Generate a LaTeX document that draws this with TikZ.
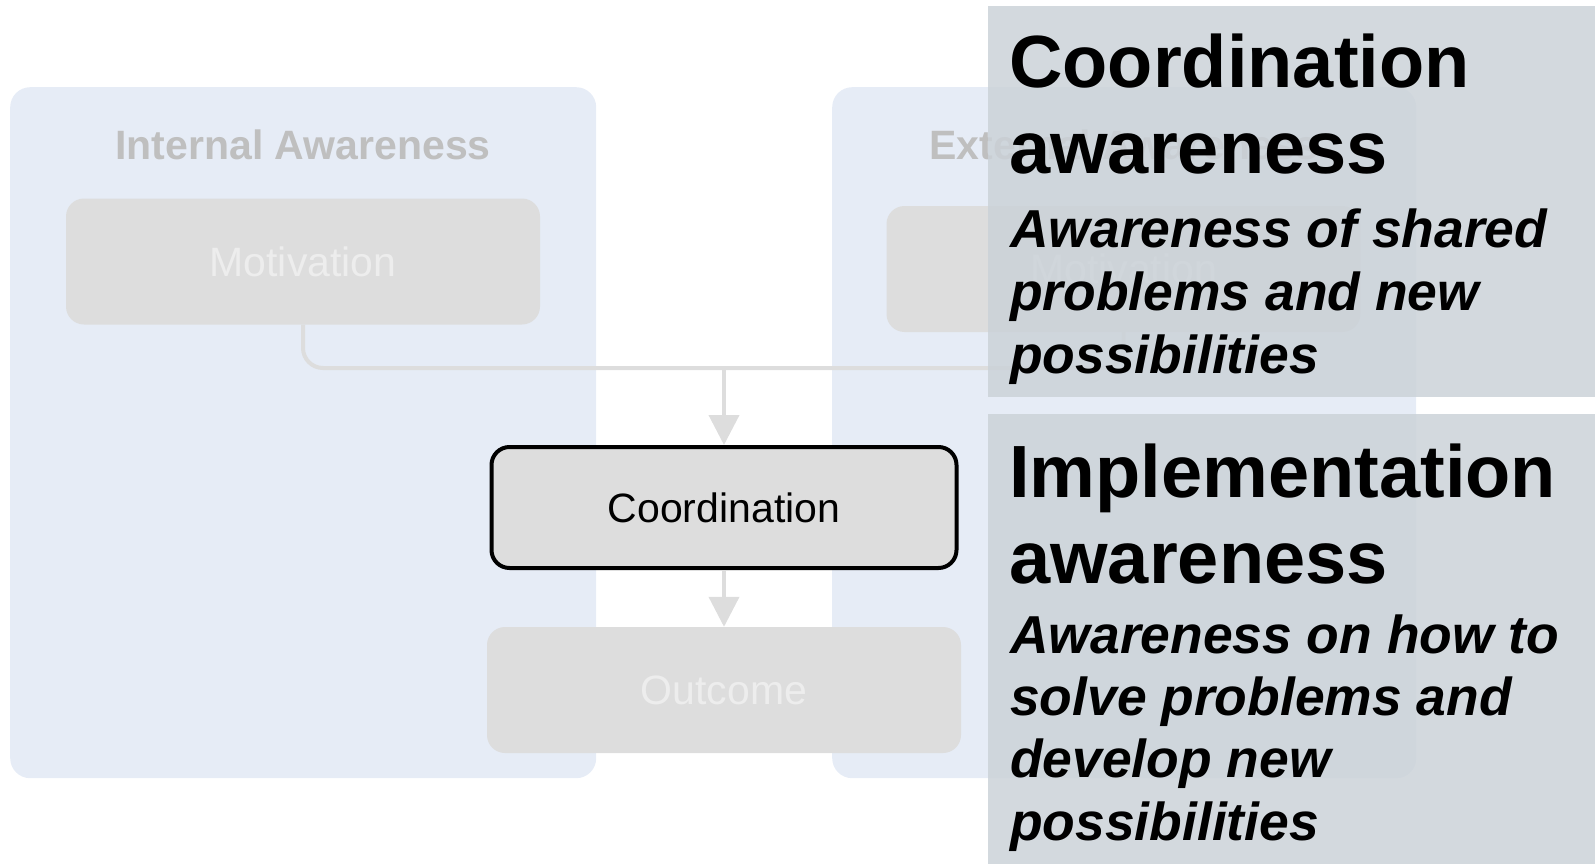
\documentclass[tikz,border=0pt]{standalone}
\usepackage{fontspec}
\setmainfont{Liberation Sans}
\usetikzlibrary{positioning}
\usetikzlibrary{arrows.meta}

\definecolor{panelblue}{RGB}{230,236,246}
\definecolor{stagegray}{RGB}{221,221,221}
\definecolor{fadetext}{RGB}{237,237,237}
\definecolor{headgray}{RGB}{191,191,191}
\definecolor{notefill}{RGB}{203,210,216}

\tikzset{x=1pt, y=-1pt, % pixel units, y grows downwards
panel/.style={ % Light blue background panels
fill=panelblue, rounded corners=20pt, anchor=north west, inner sep=0pt},
paneltitle/.style={text=headgray, anchor=base, inner sep=0pt,
font=\fontsize{41}{49}\selectfont\bfseries},
stage/.style={ % Grey process boxes
fill=stagegray, rounded corners=18pt, minimum width=474pt, minimum height=126pt,
text=fadetext, font=\fontsize{41}{49}\selectfont},
current/.style={stage, draw=black, line width=4pt,
minimum width=465pt, minimum height=121pt, text=black},
wire/.style={draw=stagegray, line width=4pt, rounded corners=20pt},
flow/.style={wire, -{Triangle[length=30pt, width=30pt]}},
note/.style={ % Semi transparent call-out boxes
fill=notefill, fill opacity=0.84, anchor=north west, inner sep=0pt},
notehead/.style={anchor=base west, inner sep=0pt,
font=\fontsize{74}{86}\selectfont\bfseries},
notetext/.style={anchor=base west, inner sep=0pt,
font=\fontsize{53.4}{63}\selectfont\bfseries\itshape}}

\begin{document}
\begin{tikzpicture}
\useasboundingbox (0,0) rectangle (1595,864);

% panels
\node[panel, minimum width=586pt, minimum height=691pt] (intpanel) at (10,87) {};
\node[panel, minimum width=584pt, minimum height=691pt] (extpanel) at (832,87) {};
\node[paneltitle] (inttitle) at (303,160) {Internal Awareness};
\node[paneltitle] (exttitle) at (1124,160) {External Awareness};

% stages
\node[stage] (motl) at (303,261.5) {Motivation};
\node[stage] (motr) at (1123.5,269) {Motivation};
\node[current] (coord) at (724,507.5) {Coordination};
\node[stage] (outcome) at (724,690) {Outcome};

\coordinate (join) at (coord.north |- 0,368);
\draw[wire] (motl.south) |- (join) -| (motr.south);
\draw[flow] (join) -- (coord.north);
\draw[flow] (coord.south) -- (outcome.north);

% call-outs
\node[note, minimum width=607pt, minimum height=391pt] (cnote) at (988,6) {};
\node[note, minimum width=607pt, minimum height=450pt] (inote) at (988,414) {};

\node[notehead] (chead1) at (1009,88) {Coordination};
\node[notehead] (chead2) at (1009,173) {awareness};
\node[notetext] (ctext1) at (1010,247) {Awareness of shared};
\node[notetext] (ctext2) at (1010,310) {problems and new};
\node[notetext] (ctext3) at (1010,373) {possibilities};

\node[notehead] (ihead1) at (1009,497) {Implementation};
\node[notehead] (ihead2) at (1009,583) {awareness};
\node[notetext] (itext1) at (1010,653) {Awareness on how to};
\node[notetext] (itext2) at (1010,715) {solve problems and};
\node[notetext] (itext3) at (1010,777) {develop new};
\node[notetext] (itext4) at (1010,840) {possibilities};
\end{tikzpicture}
\end{document}
